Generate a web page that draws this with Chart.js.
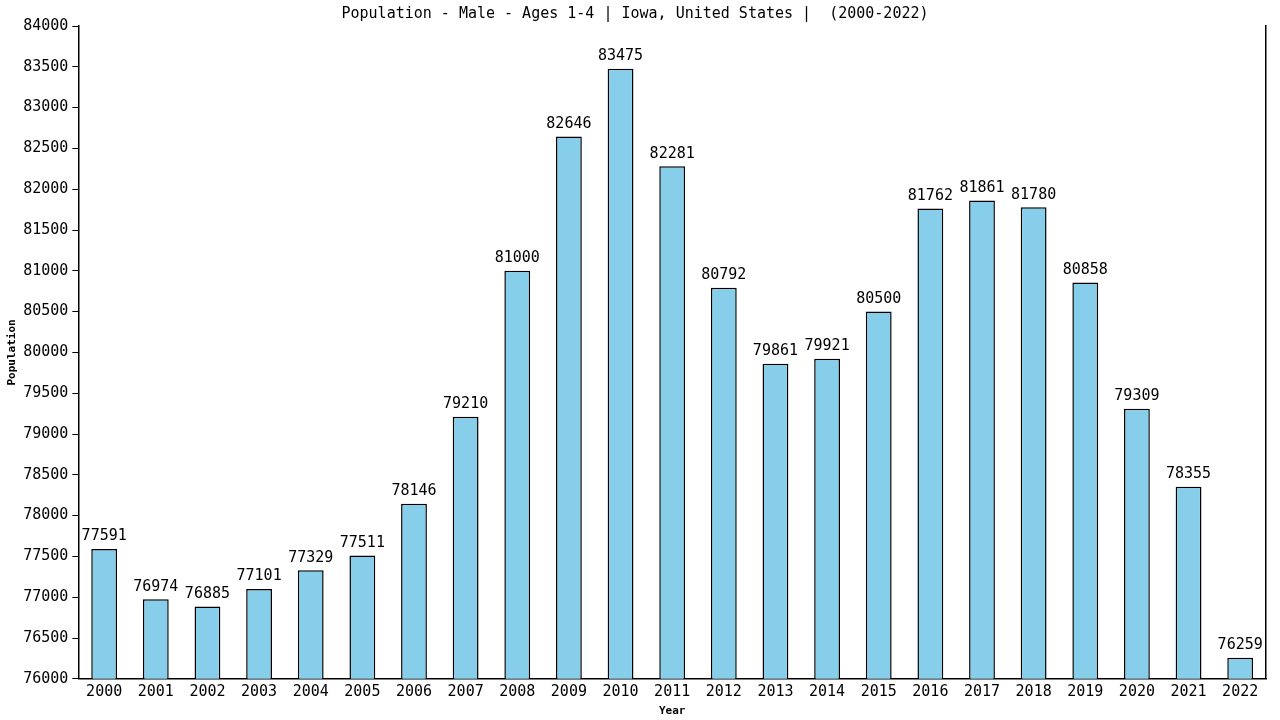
<!DOCTYPE html>
<html>
<head>
<meta charset="utf-8">
<script src="https://cdn.jsdelivr.net/npm/chart.js@4"></script>
<style>
  html, body { margin: 0; padding: 0; background: #fff; }
  #wrap { width: 1280px; height: 720px; }
</style>
</head>
<body>
<div id="wrap"><canvas id="chart"></canvas></div>
<script>
const years = ['2000', '2001', '2002', '2003', '2004', '2005', '2006', '2007', '2008', '2009', '2010', '2011',
  '2012', '2013', '2014', '2015', '2016', '2017', '2018', '2019', '2020', '2021', '2022'];
const population = [77591, 76974, 76885, 77101, 77329, 77511, 78146, 79210, 81000, 82646, 83475, 82281,
  80792, 79861, 79921, 80500, 81762, 81861, 81780, 80858, 79309, 78355, 76259];
const yMin = 76000;
const yMax = 84000;
const yStep = 500;

const mono = 'DejaVu Sans Mono';

// value printed above each bar
const barLabels = {
  id: 'barLabels',
  afterDatasetsDraw(chart) {
    const ctx = chart.ctx;
    const meta = chart.getDatasetMeta(0);
    ctx.save();
    ctx.font = '15px "' + mono + '"';
    ctx.fillStyle = '#000';
    ctx.textAlign = 'center';
    ctx.textBaseline = 'bottom';
    meta.data.forEach((bar, i) => {
      ctx.fillText(String(chart.data.datasets[0].data[i]), bar.x, bar.y - 5);
    });
    ctx.restore();
  }
};

new Chart(document.getElementById('chart'), {
  type: 'bar',
  data: {
    labels: years,
    datasets: [{
      label: 'Population',
      data: population,
      backgroundColor: '#87CEEB',
      borderColor: '#000',
      borderWidth: 1.5,
      borderSkipped: 'bottom',
      barPercentage: 0.5,
      categoryPercentage: 1.0
    }]
  },
  options: {
    responsive: true,
    maintainAspectRatio: false,
    animation: false,
    layout: { padding: { left: 4, right: 14, top: 1, bottom: 0 } },
    plugins: {
      legend: { display: false },
      tooltip: { enabled: false },
      title: {
        display: true,
        text: 'Population - Male - Ages 1-4 | Iowa, United States |  (2000-2022)',
        color: '#000',
        font: { family: mono, size: 15, weight: 'normal' },
        padding: { top: 4, bottom: 3 }
      }
    },
    scales: {
      x: {
        grid: { display: false, drawTicks: false },
        border: { display: true, color: '#000', width: 1.5 },
        ticks: { color: '#000', font: { family: mono, size: 15 }, padding: 4, maxRotation: 0, autoSkip: false },
        title: { display: true, text: 'Year', color: '#000', font: { family: mono, size: 11, weight: 'bold' }, padding: { top: 0, bottom: 2 } }
      },
      y: {
        min: yMin,
        max: yMax,
        grid: { display: true, drawOnChartArea: false, drawTicks: true, tickLength: 6, color: '#000' },
        border: { display: true, color: '#000', width: 1.5 },
        ticks: { stepSize: yStep, color: '#000', font: { family: mono, size: 15 }, padding: 4,
          callback: (v) => String(v) },
        title: { display: true, text: 'Population', color: '#000', font: { family: mono, size: 11, weight: 'bold' }, padding: { top: 2, bottom: 0 } }
      },
      y2: {
        position: 'right',
        min: yMin,
        max: yMax,
        grid: { display: false, drawTicks: false },
        border: { display: true, color: '#000', width: 1.5 },
        ticks: { display: false }
      }
    }
  },
  plugins: [barLabels]
});
</script>
</body>
</html>
